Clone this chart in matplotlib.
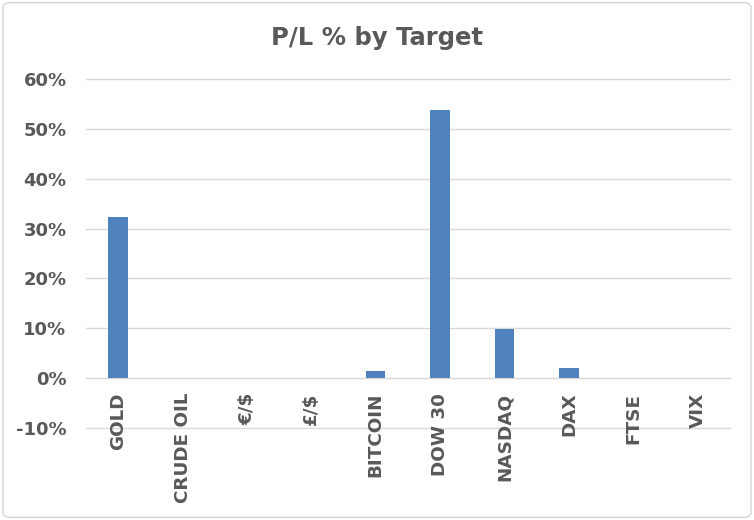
import matplotlib
matplotlib.use('AGG')

import matplotlib.pyplot as plt
from matplotlib.patches import FancyBboxPatch
from matplotlib.ticker import FuncFormatter

# data
targets = ['GOLD', 'CRUDE OIL', '€/$', '£/$', 'BITCOIN', 'DOW 30', 'NASDAQ', 'DAX', 'FTSE', 'VIX']
pl_pct = [32.4, 0.0, 0.0, 0.1, 1.5, 53.7, 9.9, 2.0, 0.0, 0.0]
y_ticks = [-10, 0, 10, 20, 30, 40, 50, 60]

grey = '#595959'
plt.rcParams['font.family'] = ['DejaVu Sans']
plt.rcParams['font.weight'] = 'bold'

fig = plt.figure(figsize=(7.54, 5.2), dpi=100)
ax = fig.add_axes([0.114, 0.177, 0.854, 0.671])

# outer chart border
fig.patches.append(FancyBboxPatch((0.004, 0.005), 0.992, 0.99, boxstyle='round,pad=0,rounding_size=0.01',
                                  transform=fig.transFigure, fc='white', ec='#d9d9d9', lw=1.2, zorder=-1))
fig.patch.set_alpha(0)

ax.bar(range(len(targets)), pl_pct, width=0.3, color='#4f81bd', zorder=3)

ax.set_ylim(-10, 60)
ax.set_xlim(-0.5, len(targets) - 0.5)
ax.set_yticks(y_ticks)
ax.yaxis.set_major_formatter(FuncFormatter(lambda v, p: '%d%%' % v))
ax.grid(axis='y', color='#d9d9d9', lw=1)
#gridlines at the limits would be half clipped otherwise
for gl in ax.get_ygridlines():
    gl.set_clip_on(False)
ax.set_facecolor('none')
for s in ['top', 'right', 'left']:
    ax.spines[s].set_visible(False)
ax.spines['bottom'].set_position(('data', 0))
ax.spines['bottom'].set_color('#d9d9d9')
#category labels must sit on top of the -10% gridline
ax.xaxis.set_zorder(2)

ax.set_xticks(range(len(targets)))
ax.set_xticklabels(targets, rotation=90, fontweight='bold')
ax.tick_params(axis='x', length=0, pad=10.5, labelsize=13.2, labelcolor=grey)
ax.tick_params(axis='y', length=0, pad=14, labelsize=13, labelcolor=grey)

fig.text(0.5, 0.927, 'P/L % by Target', ha='center', va='center', fontsize=17.5, fontweight='bold', color=grey)

plt.savefig('out.png', dpi=100)
plt.close(fig)
